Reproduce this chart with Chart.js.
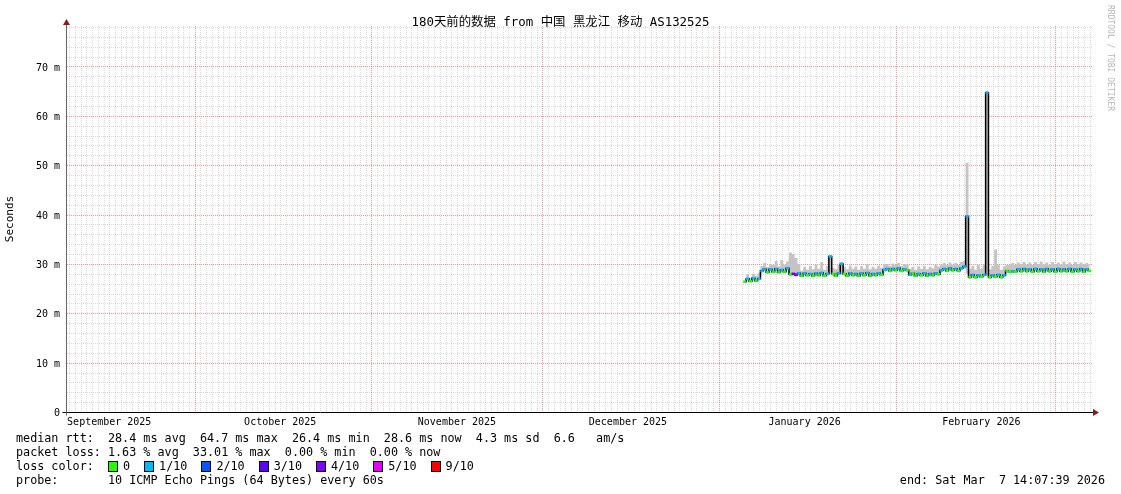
<!DOCTYPE html>
<html>
<head>
<meta charset="utf-8">
<script src="https://cdn.jsdelivr.net/npm/chart.js@4.4.1/dist/chart.umd.min.js"></script>
<style>
  html, body { margin: 0; padding: 0; background: #fff; }
  #wrap { position: relative; width: 1121px; height: 494px; overflow: hidden; font-family: "DejaVu Sans Mono", monospace; color: #000; }
  #chart { position: absolute; left: 0; top: 0; }
  .title { position: absolute; left: 0; top: 14px; width: 1121px; text-align: center; font: 12.4px "DejaVu Sans Mono", "Noto Sans CJK SC", monospace; line-height: 16px; }
  .watermark { position: absolute; left: 1106px; top: 5px; writing-mode: vertical-rl; font: 8px "DejaVu Sans Mono", monospace; color: #b8b8b8; }
  .legend { position: absolute; left: 16px; margin: 0; font: 11.75px "DejaVu Sans Mono", monospace; line-height: 14px; white-space: pre; }
  .loss-row { position: absolute; left: 16px; top: 459px; height: 14px; display: flex; align-items: center; font: 11.75px "DejaVu Sans Mono", monospace; white-space: pre; }
  .loss-row .head { width: 92px; }
  .loss-item { display: flex; align-items: center; margin-right: 14px; }
  .loss-item i { display: inline-block; width: 8px; height: 9px; border: 1px solid #000; margin-right: 5px; }
  .end { position: absolute; right: 16px; top: 473px; font: 11.75px "DejaVu Sans Mono", monospace; line-height: 14px; white-space: pre; }
</style>
</head>
<body>
<div id="wrap">
  <canvas id="chart" width="1121" height="494"></canvas>
  <div class="title" id="title"></div>
  <div class="watermark">RRDTOOL / TOBI OETIKER</div>
  <pre class="legend" id="stats" style="top:431px"></pre>
  <div class="loss-row" id="lossRow"><span class="head">loss color:</span></div>
  <pre class="legend" id="probe" style="top:473px"></pre>
  <div class="end" id="endText"></div>
</div>
<script>
// x values are days counted from 1 Sep 2025 00:00
const viewStartDay = 7.59;
const viewEndDay = 187.59;
const firstSampleDay = 126.5;
const sampleStepDays = 0.5;

const monthStartDays = [30, 61, 91, 122, 153, 181];
const monthLabelDays = [15, 45, 76, 106, 137, 168];
const monthLabels = ['September 2025', 'October 2025', 'November 2025', 'December 2025', 'January 2026', 'February 2026'];

// median rtt (ms), one sample per half day
const medianRtt = [
  26.4, 27.0, 26.5, 27.1, 26.6, 27.0, 28.6, 28.9, 28.3, 28.9,
  28.4, 29.0, 28.3, 28.8, 28.4, 29.1, 27.9, 28.0, 27.8, 28.1,
  27.6, 28.1, 27.7, 28.0, 27.6, 28.1, 27.7, 28.2, 27.6, 28.0,
  31.5, 28.0, 27.6, 28.1, 30.0, 28.0, 27.6, 28.1, 27.7, 28.0,
  27.6, 28.1, 27.7, 28.2, 27.6, 28.0, 27.7, 28.1, 27.8, 28.8,
  29.0, 28.6, 29.0, 28.7, 29.1, 28.6, 28.9, 28.7, 27.8, 28.1,
  27.6, 28.0, 27.7, 28.1, 27.6, 28.0, 27.7, 28.1, 27.9, 28.7,
  29.0, 28.6, 29.1, 28.7, 29.0, 28.6, 29.1, 29.5, 39.6, 27.3,
  27.8, 27.3, 27.7, 27.4, 27.8, 64.7, 27.3, 27.7, 27.4, 27.8,
  27.3, 27.7, 28.6, 28.4, 28.5, 28.4, 28.9, 28.5, 29.0, 28.5,
  28.9, 28.4, 29.0, 28.5, 28.9, 28.4, 29.0, 28.5, 28.9, 28.4,
  29.0, 28.5, 28.9, 28.5, 29.0, 28.4, 28.9, 28.5, 29.0, 28.4,
  28.9, 28.6
];

// lost pings out of 10 per sample
const lossCount = [
  0, 1, 0, 1, 0, 1, 1, 1, 0, 1,
  0, 1, 0, 1, 0, 1, 0, 3, 4, 1,
  0, 1, 0, 1, 0, 1, 0, 1, 0, 1,
  1, 0, 0, 1, 1, 0, 0, 1, 0, 1,
  0, 1, 0, 1, 0, 1, 0, 1, 0, 1,
  1, 0, 1, 0, 1, 0, 1, 0, 1, 0,
  0, 1, 0, 1, 0, 1, 0, 1, 0, 1,
  1, 0, 1, 0, 1, 0, 1, 1, 1, 0,
  1, 0, 1, 0, 1, 1, 0, 1, 0, 1,
  0, 1, 0, 0, 1, 0, 1, 0, 1, 0,
  1, 0, 1, 0, 1, 0, 1, 0, 1, 0,
  1, 0, 1, 0, 1, 0, 1, 0, 1, 0,
  1, 0
];

// smoke band: fastest and slowest ping per sample (ms)
const smokeMin = [
  26.2, 26.6, 26.3, 26.7, 26.4, 26.7, 28.2, 28.5, 28.0, 28.5,
  28.1, 28.6, 28.0, 28.4, 28.1, 28.7, 27.5, 27.6, 27.4, 27.7,
  27.3, 27.7, 27.4, 27.6, 27.3, 27.7, 27.4, 27.8, 27.3, 27.6,
  27.9, 27.6, 27.3, 27.7, 27.8, 27.6, 27.3, 27.7, 27.4, 27.6,
  27.3, 27.7, 27.4, 27.8, 27.3, 27.6, 27.4, 27.7, 27.5, 28.4,
  28.6, 28.3, 28.6, 28.4, 28.7, 28.3, 28.5, 28.4, 27.5, 27.7,
  27.3, 27.6, 27.4, 27.7, 27.3, 27.6, 27.4, 27.7, 27.6, 28.3,
  28.6, 28.3, 28.7, 28.4, 28.6, 28.3, 28.7, 29.0, 28.0, 27.0,
  27.4, 27.0, 27.3, 27.1, 27.4, 27.5, 27.0, 27.3, 27.1, 27.4,
  27.0, 27.3, 28.2, 28.1, 28.1, 28.1, 28.5, 28.2, 28.6, 28.2,
  28.5, 28.1, 28.6, 28.2, 28.5, 28.1, 28.6, 28.2, 28.5, 28.1,
  28.6, 28.2, 28.5, 28.2, 28.6, 28.1, 28.5, 28.2, 28.6, 28.1,
  28.5, 28.3
];
const smokeMax = [
  27.0, 27.9, 27.2, 28.0, 27.6, 28.2, 29.6, 30.2, 29.4, 30.0,
  29.8, 30.6, 29.5, 30.8, 29.9, 30.5, 32.3, 32.0, 31.2, 30.0,
  28.6, 29.4, 28.8, 29.6, 28.9, 29.8, 29.0, 30.4, 28.8, 29.6,
  31.8, 29.2, 28.9, 29.8, 30.4, 29.3, 28.9, 29.7, 29.0, 29.5,
  28.8, 29.6, 29.0, 30.0, 28.9, 29.4, 29.0, 29.7, 29.2, 29.8,
  30.0, 29.6, 30.1, 29.8, 30.2, 29.6, 30.0, 29.9, 29.0, 29.4,
  28.8, 29.5, 29.0, 29.6, 28.9, 29.4, 29.1, 29.8, 29.5, 29.9,
  30.2, 29.8, 30.3, 29.9, 30.2, 29.8, 30.4, 30.6, 50.5, 29.0,
  29.6, 28.8, 29.8, 29.0, 29.9, 65.0, 28.9, 29.6, 32.9, 29.8,
  28.8, 29.5, 29.8, 29.9, 30.2, 29.8, 30.3, 30.0, 30.4, 29.9,
  30.3, 29.8, 30.4, 30.0, 30.5, 29.9, 30.3, 29.8, 30.4, 30.0,
  30.3, 29.9, 30.5, 29.9, 30.3, 29.8, 30.4, 30.0, 30.3, 29.9,
  30.2, 29.9
];

const lossLevels = [0, 1, 2, 3, 4, 5, 9];
const lossLabels = ['0', '1/10', '2/10', '3/10', '4/10', '5/10', '9/10'];
const lossColors = ['#26ff00', '#00b8ff', '#0059ff', '#5e00ff', '#7e00ff', '#dd00ff', '#ff0000'];

const titleText = '180天前的数据 from 中国 黑龙江 移动 AS132525';
const statsLines = [
  'median rtt:  28.4 ms avg  64.7 ms max  26.4 ms min  28.6 ms now  4.3 ms sd  6.6   am/s',
  'packet loss: 1.63 % avg  33.01 % max  0.00 % min  0.00 % now'
];
const probeLine = 'probe:       10 ICMP Echo Pings (64 Bytes) every 60s';
const endLine = 'end: Sat Mar  7 14:07:39 2026';

const yMax = 78.2;
const yMinorStep = 2;
const yMajorStep = 10;

document.getElementById('title').textContent = titleText;
document.getElementById('stats').textContent = statsLines.join('\n');
document.getElementById('probe').textContent = probeLine;
document.getElementById('endText').textContent = endLine;
const lossRow = document.getElementById('lossRow');
lossLabels.forEach((label, i) => {
  const item = document.createElement('span');
  item.className = 'loss-item';
  item.innerHTML = `<i style="background:${lossColors[i]}"></i>${label}`;
  lossRow.appendChild(item);
});

function lossColor(n) {
  let idx = 0;
  lossLevels.forEach((level, i) => { if (n >= level) idx = i; });
  return lossColors[idx];
}

function points(values) {
  return values.map((v, i) => ({ x: firstSampleDay + i * sampleStepDays, y: v }));
}

const xTicks = [];
for (let d = Math.ceil(viewStartDay); d <= viewEndDay; d++) xTicks.push(d);
const yTicks = [];
for (let v = 0; v < yMax; v += yMinorStep) yTicks.push(v);

const minorGrid = 'rgba(170,170,170,0.42)';
const majorGrid = 'rgba(235,70,70,0.55)';

// RRD style dotted grid, drawn from the chart's own scales
const gridPlugin = {
  id: 'rrdGrid',
  beforeDatasetsDraw(chart) {
    const { ctx, chartArea, scales } = chart;
    ctx.save();
    ctx.lineWidth = 1;
    ctx.setLineDash([1, 1]);
    const vline = (d, color) => {
      const px = Math.round(scales.x.getPixelForValue(d)) + 0.5;
      ctx.strokeStyle = color;
      ctx.beginPath();
      ctx.moveTo(px, chartArea.top);
      ctx.lineTo(px, chartArea.bottom);
      ctx.stroke();
    };
    const hline = (v, color) => {
      const py = Math.round(scales.y.getPixelForValue(v)) + 0.5;
      ctx.strokeStyle = color;
      ctx.beginPath();
      ctx.moveTo(chartArea.left, py);
      ctx.lineTo(chartArea.right, py);
      ctx.stroke();
    };
    xTicks.forEach((d) => { if (!monthStartDays.includes(d)) vline(d, minorGrid); });
    yTicks.forEach((v) => { if (v > 0 && v % yMajorStep !== 0) hline(v, minorGrid); });
    yTicks.forEach((v) => { if (v > 0 && v % yMajorStep === 0) hline(v, majorGrid); });
    monthStartDays.forEach((d) => vline(d, majorGrid));
    ctx.restore();
  }
};

const axesPlugin = {
  id: 'rrdAxes',
  afterDraw(chart) {
    const { ctx, chartArea } = chart;
    const x0 = Math.round(chartArea.left) - 0.5;
    const y0 = Math.round(chartArea.bottom) + 0.5;
    ctx.save();
    ctx.lineWidth = 1;
    ctx.strokeStyle = '#000';
    ctx.beginPath();
    ctx.moveTo(x0 - 4, y0);
    ctx.lineTo(chartArea.right + 1, y0);
    ctx.stroke();
    ctx.strokeStyle = '#666';
    ctx.beginPath();
    ctx.moveTo(x0, y0 + 3);
    ctx.lineTo(x0, chartArea.top - 4);
    ctx.stroke();
    ctx.fillStyle = '#8b1a1a';
    ctx.beginPath();
    ctx.moveTo(x0, chartArea.top - 7);
    ctx.lineTo(x0 - 3.5, chartArea.top - 1);
    ctx.lineTo(x0 + 3.5, chartArea.top - 1);
    ctx.closePath();
    ctx.fill();
    ctx.beginPath();
    ctx.moveTo(chartArea.right + 6, y0);
    ctx.lineTo(chartArea.right, y0 - 3.5);
    ctx.lineTo(chartArea.right, y0 + 3.5);
    ctx.closePath();
    ctx.fill();
    ctx.restore();
  }
};

new Chart(document.getElementById('chart'), {
  type: 'line',
  data: {
    datasets: [
      { label: 'loss color', data: points(medianRtt), showLine: false, pointStyle: 'line', pointRadius: 1.6, pointBorderWidth: 2.5, pointBorderColor: lossCount.map(lossColor), order: 0 },
      { label: 'median rtt', data: points(medianRtt), borderColor: '#000', borderWidth: 1.5, stepped: 'middle', pointRadius: 0, fill: false, order: 1 },
      { label: 'smoke min', data: points(smokeMin), borderColor: 'rgba(0,0,0,0)', borderWidth: 0, stepped: 'middle', pointRadius: 0, fill: false, order: 3 },
      { label: 'smoke max', data: points(smokeMax), borderColor: 'rgba(0,0,0,0)', borderWidth: 0, stepped: 'middle', pointRadius: 0, fill: '-1', backgroundColor: '#c4c4c4', order: 2 }
    ]
  },
  options: {
    responsive: false,
    animation: false,
    events: [],
    layout: { padding: { left: 0, top: 26, right: 28, bottom: 0 } },
    plugins: { legend: { display: false }, tooltip: { enabled: false } },
    scales: {
      x: {
        type: 'linear',
        min: viewStartDay,
        max: viewEndDay,
        afterBuildTicks: (scale) => { scale.ticks = xTicks.map((v) => ({ value: v })); },
        afterFit: (scale) => { scale.height = 82; },
        grid: { display: false, drawTicks: false },
        border: { display: false },
        ticks: {
          autoSkip: false,
          maxRotation: 0,
          padding: 4,
          color: '#000',
          font: { family: 'DejaVu Sans Mono', size: 10 },
          callback: (v) => {
            const i = monthLabelDays.indexOf(v);
            return i >= 0 ? monthLabels[i] : '';
          }
        }
      },
      y: {
        min: 0,
        max: yMax,
        afterBuildTicks: (scale) => { scale.ticks = yTicks.map((v) => ({ value: v })); },
        afterFit: (scale) => { scale.width = 67; },
        grid: { display: false, drawTicks: false },
        border: { display: false },
        title: { display: true, text: 'Seconds', color: '#000', font: { family: 'DejaVu Sans Mono', size: 11 }, padding: { top: 4, bottom: 0 } },
        ticks: {
          autoSkip: false,
          padding: 7,
          labelOffset: 1.5,
          color: '#000',
          font: { family: 'DejaVu Sans Mono', size: 10 },
          callback: (v) => (v === 0 ? '0' : v % yMajorStep === 0 ? v + ' m' : '')
        }
      }
    }
  },
  plugins: [gridPlugin, axesPlugin]
});
</script>
</body>
</html>
